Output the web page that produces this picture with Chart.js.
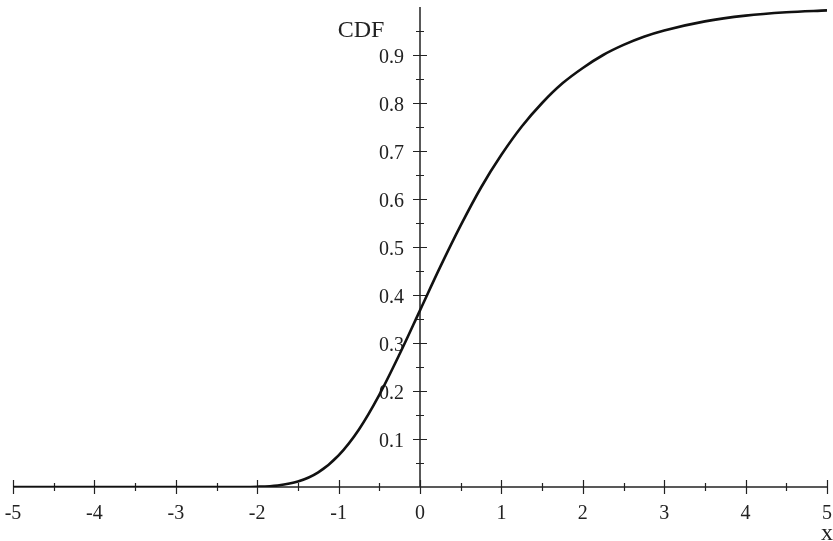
<!DOCTYPE html>
<html>
<head>
<meta charset="utf-8">
<script src="https://cdn.jsdelivr.net/npm/chart.js@4/dist/chart.umd.min.js"></script>
<style>
html,body{margin:0;padding:0;background:#fff;}
#wrap{width:833px;height:541px;position:relative;}
</style>
</head>
<body>
<div id="wrap"><canvas id="c" width="833" height="541"></canvas></div>
<script>
// Curve points
const xValues = [-5, -4.5, -4, -3.5, -3, -2.5, -2.25, -2, -1.75, -1.5, -1.25, -1, -0.75, -0.5, -0.25, 0, 0.25, 0.5, 0.75, 1, 1.25, 1.5, 1.75, 2, 2.25, 2.5, 2.75, 3, 3.5, 4, 4.5, 5];
const cdfValues = [0, 0, 0, 0, 0, 0, 0.0001, 0.0006, 0.0032, 0.0113, 0.0305, 0.066, 0.120, 0.192, 0.277, 0.368, 0.459, 0.545, 0.624, 0.692, 0.751, 0.800, 0.841, 0.873, 0.900, 0.921, 0.938, 0.951, 0.970, 0.982, 0.989, 0.993];

// Axis ticks
const xMajorTicks = [-5, -4, -3, -2, -1, 0, 1, 2, 3, 4, 5];
const xTickLabels = ['-5', '-4', '-3', '-2', '-1', '0', '1', '2', '3', '4', '5'];
const xMinorTicks = [-4.5, -3.5, -2.5, -1.5, -0.5, 0.5, 1.5, 2.5, 3.5, 4.5];
const yMajorTicks = [0.1, 0.2, 0.3, 0.4, 0.5, 0.6, 0.7, 0.8, 0.9];
const yTickLabels = ['0.1', '0.2', '0.3', '0.4', '0.5', '0.6', '0.7', '0.8', '0.9'];
const yMinorTicks = [0.05, 0.15, 0.25, 0.35, 0.45, 0.55, 0.65, 0.75, 0.85, 0.95];
const xAxisTitle = 'x';
const yAxisTitle = 'CDF';

const points = xValues.map((x, i) => ({x: x, y: cdfValues[i]}));

const axesPlugin = {
  id: 'crossAxes',
  beforeDatasetsDraw(chart) {
    const ctx = chart.ctx;
    const xs = chart.scales.x, ys = chart.scales.y;
    const x0 = xs.getPixelForValue(0), y0 = ys.getPixelForValue(0);
    ctx.save();
    ctx.strokeStyle = '#222';
    ctx.lineWidth = 1.5;
    // x axis
    ctx.beginPath();
    ctx.moveTo(xs.getPixelForValue(-5), y0);
    ctx.lineTo(xs.getPixelForValue(5), y0);
    ctx.stroke();
    // y axis
    ctx.beginPath();
    ctx.moveTo(x0, y0);
    ctx.lineTo(x0, ys.getPixelForValue(1));
    ctx.stroke();
    ctx.lineWidth = 1.2;
    ctx.beginPath();
    xMajorTicks.forEach(v => { const p = Math.round(xs.getPixelForValue(v)) + 0.5; ctx.moveTo(p, y0 - 7); ctx.lineTo(p, y0 + 7); });
    xMinorTicks.forEach(v => { const p = Math.round(xs.getPixelForValue(v)) + 0.5; ctx.moveTo(p, y0 - 4); ctx.lineTo(p, y0 + 4); });
    yMajorTicks.forEach(v => { const p = Math.round(ys.getPixelForValue(v)) + 0.5; ctx.moveTo(x0 - 7, p); ctx.lineTo(x0 + 7, p); });
    yMinorTicks.forEach(v => { const p = Math.round(ys.getPixelForValue(v)) + 0.5; ctx.moveTo(x0 - 4, p); ctx.lineTo(x0 + 4, p); });
    ctx.stroke();
    // labels
    ctx.fillStyle = '#222';
    ctx.font = '20px "Liberation Serif", "DejaVu Serif", serif';
    ctx.textAlign = 'center';
    ctx.textBaseline = 'alphabetic';
    xMajorTicks.forEach((v, i) => ctx.fillText(xTickLabels[i], xs.getPixelForValue(v), y0 + 32));
    ctx.textAlign = 'right';
    ctx.textBaseline = 'middle';
    yMajorTicks.forEach((v, i) => ctx.fillText(yTickLabels[i], x0 - 16, ys.getPixelForValue(v) + 3));
    ctx.font = '24px "Liberation Serif", "DejaVu Serif", serif';
    ctx.textAlign = 'center';
    ctx.textBaseline = 'alphabetic';
    ctx.fillText(yAxisTitle, x0 - 59, ys.getPixelForValue(1) + 30);
    ctx.fillText(xAxisTitle, xs.getPixelForValue(5), y0 + 53);
    ctx.restore();
  }
};

new Chart(document.getElementById('c'), {
  type: 'scatter',
  data: {
    datasets: [{
      data: points,
      showLine: true,
      borderColor: '#111',
      borderWidth: 2.6,
      pointRadius: 0,
      cubicInterpolationMode: 'monotone',
      fill: false
    }]
  },
  options: {
    responsive: false,
    animation: false,
    devicePixelRatio: 1,
    layout: { padding: { left: 13, right: 6, top: 7, bottom: 54 } },
    plugins: { legend: { display: false }, tooltip: { enabled: false } },
    scales: {
      x: { type: 'linear', min: -5, max: 5, display: false },
      y: { type: 'linear', min: 0, max: 1, display: false }
    }
  },
  plugins: [axesPlugin]
});
</script>
</body>
</html>
